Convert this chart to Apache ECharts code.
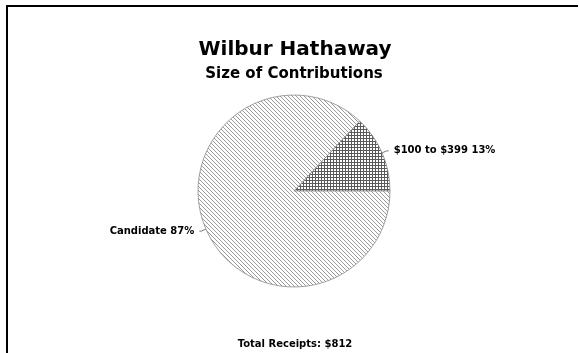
<!DOCTYPE html>
<html>
<head>
<meta charset="utf-8">
<script src="https://cdn.jsdelivr.net/npm/echarts@6/dist/echarts.min.js"></script>
<style>
html,body{margin:0;padding:0;background:#fff;}
#chart{width:579px;height:353px;}
</style>
</head>
<body>
<div id="chart"></div>
<script>
const chartTitle = 'Wilbur Hathaway';
const chartSubtitle = 'Size of Contributions';
const categories = ['$100 to $399', 'Candidate'];
const percents = [13, 87];
const totalReceipts = 812;

function makePattern(kind) {
  const c = document.createElement('canvas');
  const n = kind === 'diag' ? 4 : 3;
  c.width = n; c.height = n;
  const ctx = c.getContext('2d');
  ctx.fillStyle = '#ffffff';
  ctx.fillRect(0, 0, n, n);
  if (kind === 'diag') {
    ctx.fillStyle = '#999999';
    for (let i = 0; i < n; i++) ctx.fillRect(i, i, 1, 1);
  } else {
    ctx.fillStyle = '#5a5a5a';
    ctx.fillRect(0, 0, n, 1);
    ctx.fillRect(0, 0, 1, n);
  }
  return { image: c, repeat: 'repeat' };
}
const patterns = [makePattern('cross'), makePattern('diag')];

const font = '"DejaVu Sans", sans-serif';
const chart = echarts.init(document.getElementById('chart'));
chart.setOption({
  animation: false,
  backgroundColor: '#ffffff',
  graphic: [
    { type: 'polyline', shape: { points: [[7, 353], [7, 6], [578, 6]] },
      style: { stroke: '#000', lineWidth: 2, fill: null }, silent: true },
    { type: 'text', style: { text: chartTitle, x: 295, y: 50, textAlign: 'center', textVerticalAlign: 'middle',
      font: 'bold 20px ' + font, fill: '#000' } },
    { type: 'text', style: { text: chartSubtitle, x: 294, y: 74, textAlign: 'center', textVerticalAlign: 'middle',
      font: 'bold 15px ' + font, fill: '#000' } },
    { type: 'text', style: { text: 'Total Receipts: $' + totalReceipts, x: 295, y: 344, textAlign: 'center', textVerticalAlign: 'middle',
      font: 'bold 10px ' + font, fill: '#000' } }
  ],
  series: [{
    type: 'pie',
    center: [294, 191],
    radius: 96,
    startAngle: 0,
    clockwise: false,
    avoidLabelOverlap: false,
    data: categories.map((name, i) => ({
      name: name, value: percents[i],
      itemStyle: { color: patterns[i] }
    })),
    itemStyle: { borderColor: '#8a8a8a', borderWidth: 0.8 },
    label: {
      show: true,
      formatter: '{b} {c}%',
      fontFamily: font,
      fontWeight: 'bold',
      fontSize: 10,
      color: '#000'
    },
    labelLine: { show: true, length: 5, length2: 2, lineStyle: { color: '#777', width: 1 } },
    emphasis: { disabled: true }
  }]
});
</script>
</body>
</html>
